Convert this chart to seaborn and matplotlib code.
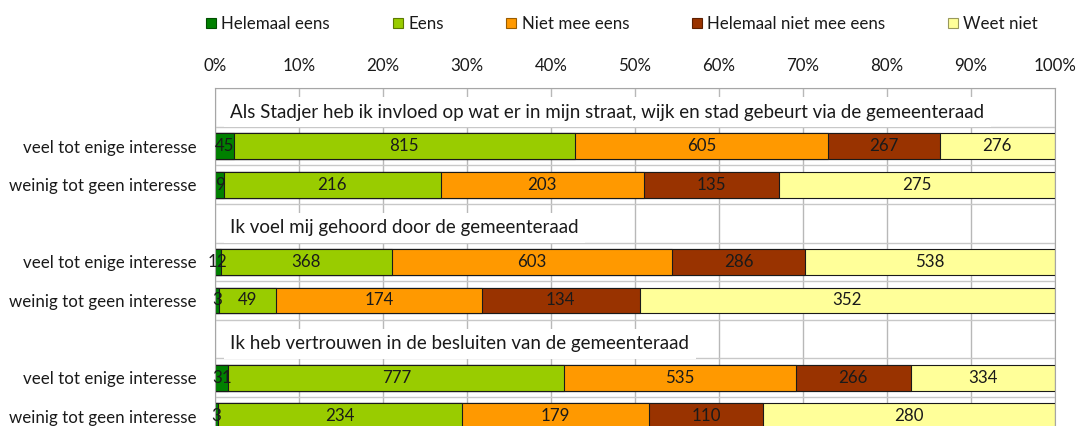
import numpy as np
import pandas as pd
import matplotlib
matplotlib.use('Agg')
import matplotlib.pyplot as plt
from matplotlib.patches import Patch
from matplotlib.ticker import PercentFormatter
import seaborn as sns

# Antwoordcategorieen en kleuren
categories = ['Helemaal eens', 'Eens', 'Niet mee eens', 'Helemaal niet mee eens', 'Weet niet']
colors = ['#008000', '#99CC00', '#FF9900', '#993300', '#FFFF99']
edge_colors = ['#004d00', '#5c7a00', '#995c00', '#5c1f00', '#99995c']

questions = [
    'Als Stadjer heb ik invloed op wat er in mijn straat, wijk en stad gebeurt via de gemeenteraad',
    'Ik voel mij gehoord door de gemeenteraad',
    'Ik heb vertrouwen in de besluiten van de gemeenteraad',
]
groups = ['veel tot enige interesse', 'weinig tot geen interesse']

# aantallen per rij (vraag 1 veel, vraag 1 weinig, vraag 2 veel, ...)
helemaal_eens = [45, 9, 12, 3, 31, 3]
eens = [815, 216, 368, 49, 777, 234]
niet_mee_eens = [605, 203, 603, 174, 535, 179]
helemaal_niet_mee_eens = [267, 135, 286, 134, 266, 110]
weet_niet = [276, 275, 538, 352, 334, 280]

# DataFrame opbouwen
rows = []
for i, q in enumerate(questions):
    for j, g in enumerate(groups):
        k = i * 2 + j
        rows.append({'Vraag': q, 'Groep': g, 'pos': i * 3 + 1 + j,
                     'Helemaal eens': helemaal_eens[k], 'Eens': eens[k],
                     'Niet mee eens': niet_mee_eens[k],
                     'Helemaal niet mee eens': helemaal_niet_mee_eens[k],
                     'Weet niet': weet_niet[k]})
df = pd.DataFrame(rows)
totaal = df[categories].sum(axis=1)
pct = df[categories].div(totaal, axis=0)
cum = pct.cumsum(axis=1)
for c in categories:
    df['cum_' + c] = cum[c]

plt.rcParams['font.family'] = ['Lato', 'DejaVu Sans']
fs = 12.2
txt_color = '#1a1a1a'

fig = plt.figure(figsize=(10.83, 4.26), dpi=100)
ax = fig.add_axes([215 / 1083, -0.0223, 840 / 1083, 0.815])

# gestapelde balken: van de langste cumulatieve naar de kortste
for c, col in reversed(list(zip(categories, colors))):
    sns.barplot(data=df, x='cum_' + c, y='pos', orient='h', native_scale=True,
                color=col, saturation=1, edgecolor='#1a1a1a', linewidth=0.8,
                width=0.67, errorbar=None, ax=ax)

# waarden in de balken
for idx, r in df.iterrows():
    left = 0
    for c in categories:
        w = pct.loc[idx, c]
        ax.text(left + w / 2, r['pos'], str(r[c]), ha='center', va='center',
                color=txt_color, fontsize=fs)
        left += w

# vraagtitels
for i, q in enumerate(questions):
    ax.text(0.018, i * 3 + 0.12, q, ha='left', va='center', fontsize=13.5,
            color=txt_color, zorder=5,
            bbox=dict(facecolor='white', edgecolor='none', boxstyle='square,pad=0.35'))

ax.set_xlim(0, 1)
ax.set_ylim(8.5, -0.5)
ax.xaxis.tick_top()
ax.set_xticks(np.arange(0, 1.01, 0.1))
ax.xaxis.set_major_formatter(PercentFormatter(1.0, decimals=0))
ax.tick_params(axis='x', length=0, pad=10, labelsize=fs, colors=txt_color)

ax.set_yticks(list(df['pos']))
ax.set_yticklabels(list(df['Groep']))
ax.tick_params(axis='y', length=0, pad=13, labelsize=fs, colors=txt_color)
ax.set_yticks(np.arange(-0.5, 9, 1), minor=True)
ax.tick_params(axis='y', which='minor', length=0)

ax.set_xlabel('')
ax.set_ylabel('')
ax.set_axisbelow(True)
ax.grid(axis='x', which='major', color='#b8b8b8', linewidth=1)
ax.grid(axis='y', which='minor', color='#c8c8c8', linewidth=1)
ax.grid(axis='y', which='major', visible=False)
for s in ['top', 'left', 'right']:
    ax.spines[s].set_color('#a6a6a6')
ax.spines['bottom'].set_visible(False)

# legenda
handles = [Patch(facecolor=col, edgecolor=ec, linewidth=0.8) for col, ec in zip(colors, edge_colors)]
fig.legend(handles, categories, loc='center', bbox_to_anchor=(622 / 1083, 1 - 24 / 426),
           ncol=5, frameon=False, fontsize=fs, handlelength=0.6, handleheight=0.6,
           handletextpad=0.3, columnspacing=3.7, borderpad=0, labelcolor=txt_color)

fig.savefig('out.png', dpi=100)
